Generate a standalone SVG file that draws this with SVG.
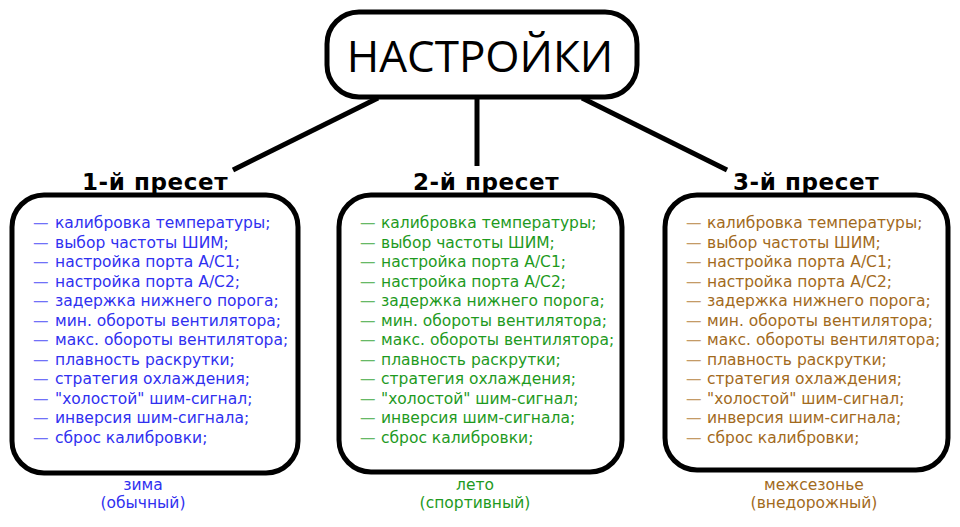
<svg xmlns="http://www.w3.org/2000/svg" width="960" height="527" viewBox="0 0 960 527">
<style>
.box{fill:#fff;stroke:#000;stroke-width:5}
.con{stroke:#000;stroke-width:5;fill:none}
.title{font-family:"Open Sans","DejaVu Sans",sans-serif;font-size:44px;fill:#000;text-anchor:middle}
.head{font-family:"DejaVu Sans",sans-serif;font-weight:bold;font-size:23px;letter-spacing:0.6px;fill:#000;text-anchor:middle}
.li{font-family:"DejaVu Sans",sans-serif;font-size:15.5px}
.cap{font-family:"DejaVu Sans",sans-serif;font-size:15.5px;text-anchor:middle}
.b{fill:#3030f0}.bd{fill:#7070f8}
.g{fill:#1e9a1e}.gd{fill:#66b866}
.o{fill:#a26a1c}.od{fill:#c49a66}
</style>
<defs>
<g id="dashes">
<text x="0" y="228">—</text><text x="0" y="247.5">—</text><text x="0" y="267">—</text><text x="0" y="286.5">—</text>
<text x="0" y="306">—</text><text x="0" y="325.5">—</text><text x="0" y="345">—</text><text x="0" y="364.5">—</text>
<text x="0" y="384">—</text><text x="0" y="403.5">—</text><text x="0" y="423">—</text><text x="0" y="442.5">—</text>
</g>
</defs>
<rect width="960" height="527" fill="#fff"/>
<g id="connectors">
<line class="con" x1="378" y1="98" x2="233" y2="170"/>
<line class="con" x1="477" y1="98" x2="477" y2="166"/>
<line class="con" x1="582" y1="98" x2="727" y2="170"/>
</g>
<g id="root">
<rect class="box" x="327" y="12" width="310" height="85" rx="32"/>
<text class="title" x="480" y="72">НАСТРОЙКИ</text>
</g>
<g id="preset1">
<text class="head" x="155" y="190">1-й пресет</text>
<rect class="box" x="12" y="195" width="286" height="278" rx="32"/>
<use href="#dashes" x="33" class="li bd" transform="scale(1)"/>
<g class="li b">
<text x="55" y="228">калибровка температуры;</text>
<text x="55" y="247.5">выбор частоты ШИМ;</text>
<text x="55" y="267">настройка порта A/C1;</text>
<text x="55" y="286.5">настройка порта A/C2;</text>
<text x="55" y="306">задержка нижнего порога;</text>
<text x="55" y="325.5">мин. обороты вентилятора;</text>
<text x="55" y="345">макс. обороты вентилятора;</text>
<text x="55" y="364.5">плавность раскрутки;</text>
<text x="55" y="384">стратегия охлаждения;</text>
<text x="55" y="403.5">"холостой" шим-сигнал;</text>
<text x="55" y="423">инверсия шим-сигнала;</text>
<text x="55" y="442.5">сброс калибровки;</text>
</g>
<text class="cap b" x="143" y="490">зима</text>
<text class="cap b" x="143" y="508">(обычный)</text>
</g>
<g id="preset2">
<text class="head" x="486" y="190">2-й пресет</text>
<rect class="box" x="339" y="195" width="283" height="277" rx="32"/>
<use href="#dashes" x="360" class="li gd"/>
<g class="li g">
<text x="381" y="228">калибровка температуры;</text>
<text x="381" y="247.5">выбор частоты ШИМ;</text>
<text x="381" y="267">настройка порта A/C1;</text>
<text x="381" y="286.5">настройка порта A/C2;</text>
<text x="381" y="306">задержка нижнего порога;</text>
<text x="381" y="325.5">мин. обороты вентилятора;</text>
<text x="381" y="345">макс. обороты вентилятора;</text>
<text x="381" y="364.5">плавность раскрутки;</text>
<text x="381" y="384">стратегия охлаждения;</text>
<text x="381" y="403.5">"холостой" шим-сигнал;</text>
<text x="381" y="423">инверсия шим-сигнала;</text>
<text x="381" y="442.5">сброс калибровки;</text>
</g>
<text class="cap g" x="475" y="490">лето</text>
<text class="cap g" x="475" y="508">(спортивный)</text>
</g>
<g id="preset3">
<text class="head" x="806" y="190">3-й пресет</text>
<rect class="box" x="665" y="195" width="283" height="275" rx="32"/>
<use href="#dashes" x="686" class="li od"/>
<g class="li o">
<text x="707" y="228">калибровка температуры;</text>
<text x="707" y="247.5">выбор частоты ШИМ;</text>
<text x="707" y="267">настройка порта A/C1;</text>
<text x="707" y="286.5">настройка порта A/C2;</text>
<text x="707" y="306">задержка нижнего порога;</text>
<text x="707" y="325.5">мин. обороты вентилятора;</text>
<text x="707" y="345">макс. обороты вентилятора;</text>
<text x="707" y="364.5">плавность раскрутки;</text>
<text x="707" y="384">стратегия охлаждения;</text>
<text x="707" y="403.5">"холостой" шим-сигнал;</text>
<text x="707" y="423">инверсия шим-сигнала;</text>
<text x="707" y="442.5">сброс калибровки;</text>
</g>
<text class="cap o" x="814" y="490">межсезонье</text>
<text class="cap o" x="814" y="508">(внедорожный)</text>
</g>
</svg>
